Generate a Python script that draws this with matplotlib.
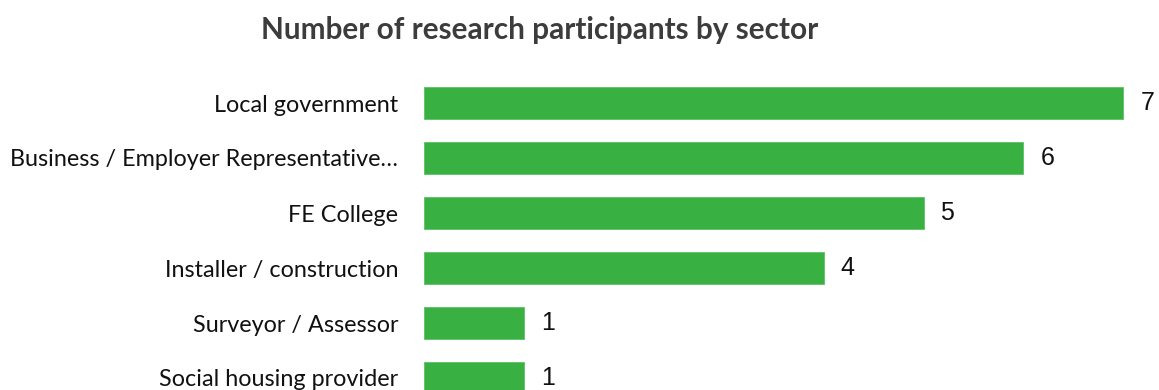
import matplotlib.pyplot as plt

sectors = [
    "Local government",
    "Business / Employer Representative\u2026",
    "FE College",
    "Installer / construction",
    "Surveyor / Assessor",
    "Social housing provider",
]
participants = [7, 6, 5, 4, 1, 1]

W, H = 1159, 390
fig = plt.figure(figsize=(W / 100, H / 100), dpi=100)

# axes placed in pixel terms; bottom row runs off the lower edge
left, right = 424, 1153
top, bottom = 75.5, 405.5
ax = fig.add_axes([left / W, (H - bottom) / H, (right - left) / W, (bottom - top) / H])

ypos = list(range(len(sectors)))
ax.barh(ypos, participants, height=0.57, color="#39B142", edgecolor="#5cc163", linewidth=0.6)
ax.set_xlim(0, (right - left) / 99.9)
ax.set_ylim(len(sectors) - 0.5, -0.5)

ax.set_yticks(ypos)
ax.set_yticklabels(sectors, family="Lato", fontsize=16.8, color="#111111")
ax.tick_params(axis="y", length=0, pad=18.5)
ax.set_xticks([])
for s in ax.spines.values():
    s.set_visible(False)

for y, v in zip(ypos, participants):
    ax.text(v + 0.17, y, str(v), va="center", ha="left",
            family="Liberation Sans", fontsize=18, color="#111111")

fig.text(540 / W, 1 - 30 / H, "Number of research participants by sector",
         ha="center", va="center", family="Lato", fontweight="bold",
         fontsize=21.4, color="#3c3c3c")

fig.savefig("out.png", dpi=100)
